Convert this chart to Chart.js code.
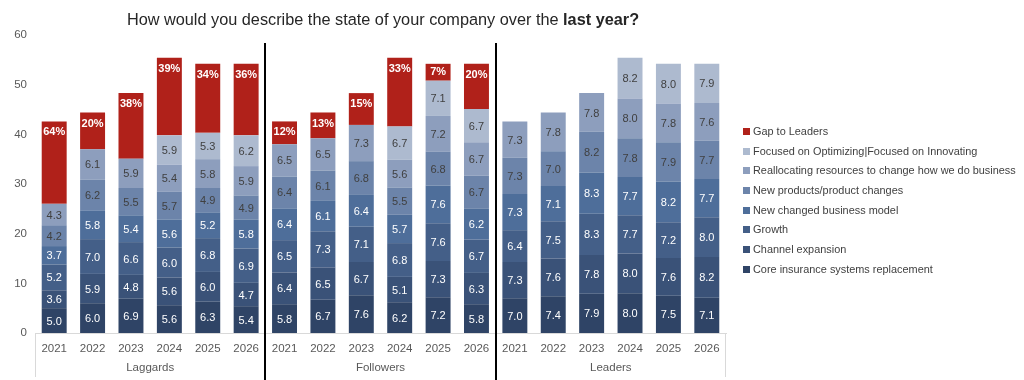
<!DOCTYPE html>
<html>
<head>
<meta charset="utf-8">
<script src="https://cdn.jsdelivr.net/npm/chart.js@4"></script>
<style>
  body { margin: 0; background: #fff; font-family: "Liberation Sans", Arial, sans-serif; }
  #wrap { position: relative; width: 1024px; height: 380px; }
  #title { position: absolute; left: 0; width: 766px; top: 10px; text-align: center; font-size: 16.3px; color: #262626; }
  #legend { position: absolute; left: 743px; top: 122px; font-size: 10.9px; color: #404040; }
  .item { height: 19.7px; line-height: 19.7px; white-space: nowrap; }
  .sw { display: inline-block; width: 7px; height: 7px; margin-right: 3px; }
</style>
</head>
<body>
<div id="wrap">
  <canvas id="chart" width="1024" height="380"></canvas>
  <div id="title">How would you describe the state of your company over the <b>last year?</b></div>
  <div id="legend"></div>
</div>
<script>
// categories
const years = ['2021', '2022', '2023', '2024', '2025', '2026'];
const groups = ['Laggards', 'Followers', 'Leaders'];

// series, bottom to top (Laggards x6, Followers x6, Leaders x6)
const coreSystems     = [5.0, 6.0, 6.9, 5.6, 6.3, 5.4,  5.8, 6.7, 7.6, 6.2, 7.2, 5.8,  7.0, 7.4, 7.9, 8.0, 7.5, 7.1];
const channelExp      = [3.6, 5.9, 4.8, 5.6, 6.0, 4.7,  6.4, 6.5, 6.7, 5.1, 7.3, 6.3,  7.3, 7.6, 7.8, 8.0, 7.6, 8.2];
const growth          = [5.2, 7.0, 6.6, 6.0, 6.8, 6.9,  6.5, 7.3, 7.1, 6.8, 7.6, 6.7,  6.4, 7.5, 8.3, 7.7, 7.2, 8.0];
const newModel        = [3.7, 5.8, 5.4, 5.6, 5.2, 5.8,  6.4, 6.1, 6.4, 5.7, 7.6, 6.2,  7.3, 7.1, 8.3, 7.7, 8.2, 7.7];
const newProducts     = [4.2, 6.2, 5.5, 5.7, 4.9, 4.9,  6.4, 6.1, 6.8, 5.5, 6.8, 6.7,  7.3, 7.0, 8.2, 7.8, 7.9, 7.7];
const reallocating    = [4.3, 6.1, 5.9, 5.4, 5.8, 5.9,  6.5, 6.5, 7.3, 5.6, 7.2, 6.7,  7.3, 7.8, 7.8, 8.0, 7.8, 7.6];
const optimizing      = [null, null, null, 5.9, 5.3, 6.2,  null, null, null, 6.7, 7.1, 6.7,  null, null, null, 8.2, 8.0, 7.9];
const gapToLeaders    = [16.6, 7.4, 13.2, 15.6, 13.9, 14.4,  4.6, 5.2, 6.4, 13.8, 3.4, 9.1,  null, null, null, null, null, null];
const gapLabels       = ['64%', '20%', '38%', '39%', '34%', '36%',  '12%', '13%', '15%', '33%', '7%', '20%',  '', '', '', '', '', ''];

const seriesNames = [
  'Core insurance systems replacement',
  'Channel expansion',
  'Growth',
  'New changed business model',
  'New products/product changes',
  'Reallocating resources to change how we do business',
  'Focused on Optimizing|Focused on Innovating',
  'Gap to Leaders'
];
const seriesData = [coreSystems, channelExp, growth, newModel, newProducts, reallocating, optimizing, gapToLeaders];
const seriesColors = ['#2f4466', '#3a5278', '#445f88', '#4e6e9a', '#6c84aa', '#8d9ebd', '#adbacf', '#b0211a'];

const FONT = '"Liberation Sans", Arial, sans-serif';
const xLabels = groups.flatMap(() => years);

const valueLabels = {
  id: 'valueLabels',
  afterDatasetsDraw(chart) {
    const ctx = chart.ctx;
    ctx.save();
    ctx.textAlign = 'center';
    ctx.textBaseline = 'middle';
    chart.data.datasets.forEach((ds, i) => {
      const meta = chart.getDatasetMeta(i);
      meta.data.forEach((bar, j) => {
        const v = ds.data[j];
        if (v == null) return;
        if (i === 7) {
          ctx.font = 'bold 11px ' + FONT;
          ctx.fillStyle = '#ffffff';
          ctx.fillText(gapLabels[j], bar.x, Math.min(bar.y + 11, (bar.y + bar.base) / 2));
        } else {
          ctx.font = '11px ' + FONT;
          ctx.fillStyle = i < 4 ? '#ffffff' : '#404040';
          ctx.fillText(v.toFixed(1), bar.x, (bar.y + bar.base) / 2 + 1);
        }
      });
    });
    ctx.restore();
  }
};

// group names under the years + separators
const groupAxis = {
  id: 'groupAxis',
  afterDraw(chart) {
    const x = chart.scales.x;
    const ctx = chart.ctx;
    const per = years.length;
    const half = (x.getPixelForValue(1) - x.getPixelForValue(0)) / 2;
    const bottom = chart.chartArea.bottom;
    ctx.save();
    ctx.font = '11.5px ' + FONT;
    ctx.fillStyle = '#595959';
    ctx.textAlign = 'center';
    ctx.textBaseline = 'middle';
    groups.forEach((g, k) => {
      const left = x.getPixelForValue(k * per) - half;
      const right = x.getPixelForValue(k * per + per - 1) + half;
      ctx.strokeStyle = '#d9d9d9';
      ctx.lineWidth = 1;
      ctx.beginPath();
      ctx.moveTo(Math.round(left) + 0.5, bottom);
      ctx.lineTo(Math.round(left) + 0.5, bottom + 44);
      ctx.moveTo(Math.round(right) - 0.5, bottom);
      ctx.lineTo(Math.round(right) - 0.5, bottom + 44);
      ctx.stroke();
      ctx.fillText(g, (left + right) / 2, bottom + 35);
    });
    ctx.strokeStyle = '#000000';
    ctx.lineWidth = 2;
    for (let k = 1; k < groups.length; k++) {
      const bx = Math.round(x.getPixelForValue(k * per) - half);
      ctx.beginPath();
      ctx.moveTo(bx, 43);
      ctx.lineTo(bx, 380);
      ctx.stroke();
    }
    ctx.restore();
  }
};

const chart = new Chart(document.getElementById('chart'), {
  type: 'bar',
  data: {
    labels: xLabels,
    datasets: seriesNames.map((name, i) => ({
      label: name,
      data: seriesData[i],
      backgroundColor: seriesColors[i],
      borderWidth: 0,
      barPercentage: 0.65,
      categoryPercentage: 1.0
    }))
  },
  options: {
    responsive: false,
    animation: false,
    layout: { padding: { top: 35, right: 298, bottom: 0, left: 0 } },
    plugins: {
      legend: { display: false },
      tooltip: { enabled: false }
    },
    scales: {
      x: {
        stacked: true,
        grid: { display: false, drawTicks: false },
        border: { color: '#d9d9d9', width: 1 },
        ticks: { color: '#595959', font: { family: FONT, size: 11.5 }, padding: 9, autoSkip: false, maxRotation: 0 },
        afterFit: s => { s.height = 47; }
      },
      y: {
        stacked: true,
        min: 0,
        max: 60,
        grid: { display: false, drawTicks: false },
        border: { display: false },
        ticks: { stepSize: 10, color: '#595959', font: { family: FONT, size: 11.5 }, padding: 8 },
        afterFit: s => { s.width = 35; }
      }
    }
  },
  plugins: [valueLabels, groupAxis]
});

// legend, top to bottom as in the reference
const legendEl = document.getElementById('legend');
chart.data.datasets.slice().reverse().forEach(ds => {
  const row = document.createElement('div');
  row.className = 'item';
  row.innerHTML = '<span class="sw" style="background:' + ds.backgroundColor + '"></span>' + ds.label;
  legendEl.appendChild(row);
});
</script>
</body>
</html>
